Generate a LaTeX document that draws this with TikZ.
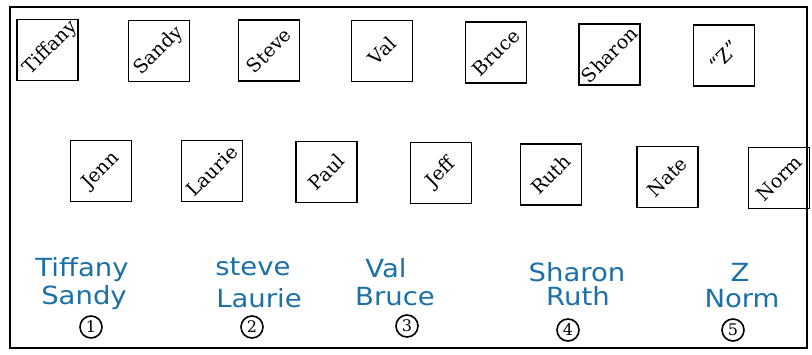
\documentclass[tikz,border=0pt]{standalone}
\usepackage{fontspec}
\newfontfamily\handfont{DejaVu Sans}
\newfontfamily\seatfont{DejaVu Serif}
\newcommand{\handw}[1]{\scalebox{1.1}[1]{#1}}
\definecolor{ink}{RGB}{28,112,168}
\tikzset{
  seat/.style={draw, line width=1.4pt, minimum size=61pt, inner sep=0pt},
  seatname/.style={rotate=45, font=\seatfont\fontsize{19}{21}\selectfont, inner sep=0pt},
  hand/.style={text=ink, font=\handfont\fontsize{25}{27}\selectfont, inner sep=0pt},
  grp/.style={draw, circle, line width=1.6pt, minimum size=22pt, inner sep=0pt, font=\seatfont\fontsize{16}{17}\selectfont}
}
\begin{document}
\begin{tikzpicture}[x=1pt,y=-1pt]
\useasboundingbox (0,0) rectangle (812,354);
\draw[line width=1.8pt] (10,7) rectangle (807,348);
% front row
\node[seat] (tiffany) at (47.5,50) {};
\begin{scope}
\clip (tiffany.south west) rectangle (tiffany.north east);
\node[seatname] at ([shift={(3,-2)}]tiffany) {Tiffany};
\end{scope}
\node[seat] (sandy) at (159,51) {}; \node[seatname] at (sandy) {Sandy};
\node[seat] (steve) at (269,50.5) {}; \node[seatname] at (steve) {Steve};
\node[seat] (val) at (382,51) {}; \node[seatname] at (val) {Val};
\node[seat] (bruce) at (496,52.5) {}; \node[seatname] at (bruce) {Bruce};
\node[seat] (sharon) at (609.5,54.5) {}; \node[seatname] at (sharon) {Sharon};
\node[seat] (z) at (724,55.5) {}; \node[seatname] at (z) {“Z”};
% back row
\node[seat] (jenn) at (101,171) {}; \node[seatname] at (jenn) {Jenn};
\node[seat] (laurie) at (212,171) {}; \node[seatname] at (laurie) {Laurie};
\node[seat] (paul) at (326.5,172) {}; \node[seatname] at (paul) {Paul};
\node[seat] (jeff) at (441,173) {}; \node[seatname] at (jeff) {Jeff};
\node[seat] (ruth) at (551,174.5) {}; \node[seatname] at (ruth) {Ruth};
\node[seat] (nate) at (667.5,177) {}; \node[seatname] at (nate) {Nate};
\node[seat] (norm) at (779,178) {}; \node[seatname] at (norm) {Norm};
% handwritten groups
\node[hand] (h1a) at (82,270) {\handw{Tiffany}};
\node[hand] (h1b) at (84,298) {\handw{Sandy}};
\node[grp] (g1) at (91,327) {1};
\node[hand] (h2a) at (253,267) {\handw{steve}};
\node[hand] (h2b) at (259,298) {\handw{Laurie}};
\node[grp] (g2) at (252,327) {2};
\node[hand] (h3a) at (386,268) {\handw{Val}};
\node[hand] (h3b) at (395,297) {\handw{Bruce}};
\node[grp] (g3) at (407,326) {3};
\node[hand] (h4a) at (577,272) {\handw{Sharon}};
\node[hand] (h4b) at (578,296) {\handw{Ruth}};
\node[grp] (g4) at (568,330) {4};
\node[hand] (h5a) at (740,272) {\handw{Z}};
\node[hand] (h5b) at (742,299) {\handw{Norm}};
\node[grp] (g5) at (733,330) {5};
\end{tikzpicture}
\end{document}
